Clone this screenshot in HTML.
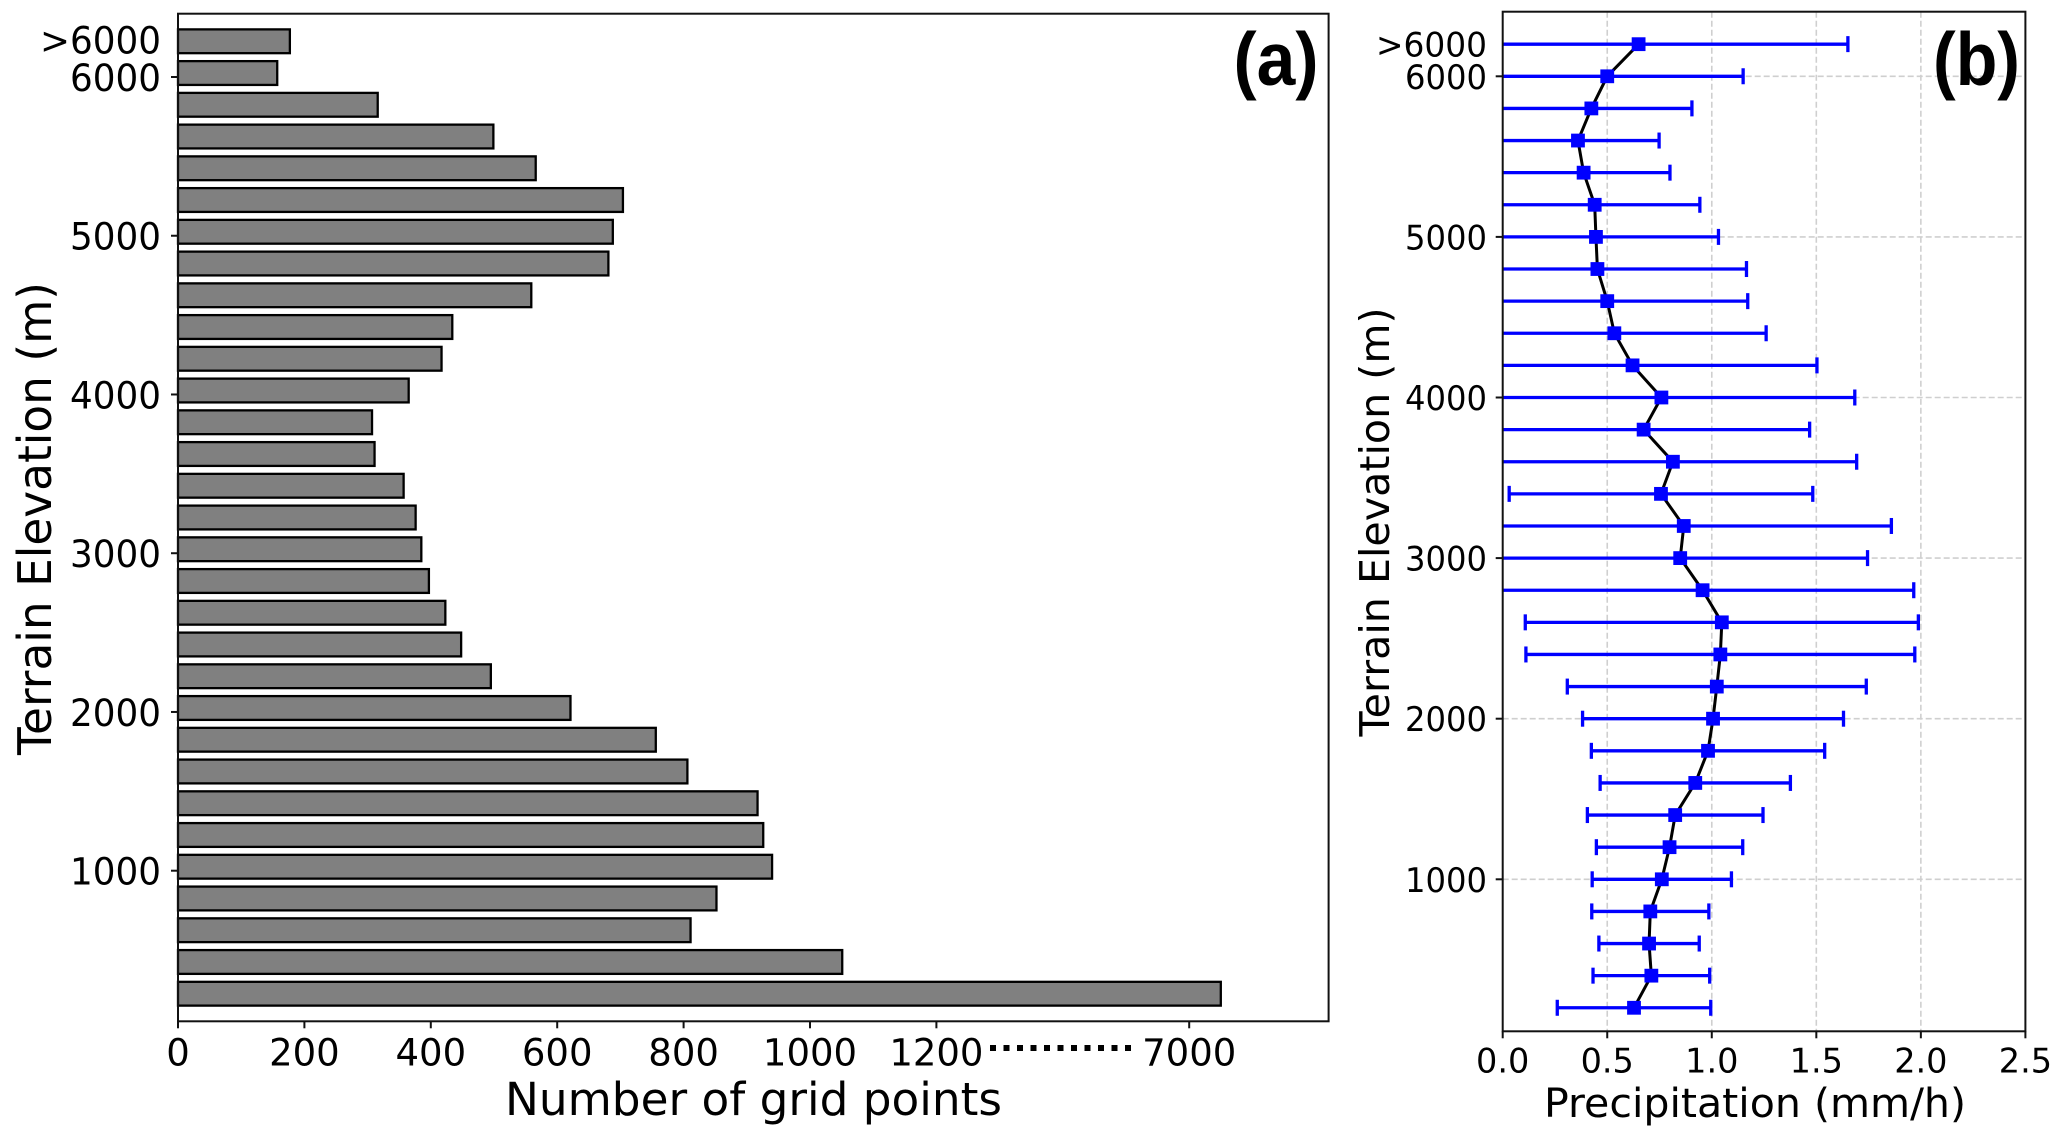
<!DOCTYPE html>
<html lang="en">
<head>
<meta charset="utf-8">
<title>Terrain elevation charts</title>
<style>
html,body{margin:0;padding:0;background:#fff;width:2067px;height:1138px;overflow:hidden}
svg{display:block}
text{font-family:"DejaVu Sans","Liberation Sans",sans-serif;fill:#000}
.panel-letter{font-family:"Liberation Sans",sans-serif;font-weight:bold}
</style>
</head>
<body>
<svg id="figure" xmlns="http://www.w3.org/2000/svg" width="2067" height="1138" viewBox="0 0 2067 1138">
  <defs>
    <clipPath id="clip-b"><rect x="1502.5" y="11.7" width="523" height="1019.6"/></clipPath>
  </defs>
  <rect x="0" y="0" width="2067" height="1138" fill="#fff"/>
  <g id="panel-a"></g>
  <g id="panel-b"></g>
</svg>
<script>
// Panel (a) data: bin centre elevation (m) and number of grid points
const barElevations = [225,425,625,825,1025,1225,1425,1625,1825,2025,2225,2425,2625,2825,3025,3225,3425,3625,3825,4025,4225,4425,4625,4825,5025,5225,5425,5625,5825,6025,6225];
const barCounts = [7050,1051,811,852,940,926,917,806,756,621,495,448,423,397,385,376,357,311,307,365,417,434,559,681,688,704,566,499,316,157,177];
const xTicksA = [0,200,400,600,800,1000,1200,7000];
const yTicks = [1000,2000,3000,4000,5000,6000];
const overLabel = ">6000";

// Panel (b) data: elevation (m), mean precipitation and spread (mm/h)
const profileElevations = [200,400,600,800,1000,1200,1400,1600,1800,2000,2200,2400,2600,2800,3000,3200,3400,3600,3800,4000,4200,4400,4600,4800,5000,5200,5400,5600,5800,6000,6200];
const profileMeans = [0.628,0.711,0.70,0.706,0.761,0.798,0.825,0.921,0.982,1.006,1.024,1.041,1.048,0.956,0.849,0.866,0.757,0.814,0.674,0.759,0.621,0.534,0.50,0.453,0.446,0.44,0.387,0.36,0.424,0.50,0.65];
const profileErrors = [0.367,0.279,0.24,0.28,0.333,0.35,0.42,0.455,0.558,0.624,0.715,0.93,0.94,1.01,0.896,0.993,0.726,0.879,0.794,0.925,0.882,0.726,0.672,0.713,0.586,0.503,0.413,0.388,0.481,0.65,1.001];
const xTicksB = [0,0.5,1.0,1.5,2.0,2.5];
const xTickLabelsB = ["0.0","0.5","1.0","1.5","2.0","2.5"];

const NS = "http://www.w3.org/2000/svg";
function make(parent, tag, attrs, content) {
  const el = document.createElementNS(NS, tag);
  for (const k in attrs) el.setAttribute(k, attrs[k]);
  if (content !== undefined) el.textContent = content;
  parent.appendChild(el);
  return el;
}

// ---------- Panel (a) axes ----------
const A = {left:178, right:1328.6, top:13.7, bottom:1021.3};
// broken x axis: values above the break are shifted so 7000 lands at 1600 linear units
function xA(v) { return A.left + 0.632 * (v >= 1600 ? Math.max(v - 5400, 1600) : v); }
function yA(e) { return 870.7 - (e - 1000) * 0.15874; }

const pa = document.getElementById("panel-a");
barElevations.forEach(function (e, i) {
  const bar = make(pa, "rect", {x:xA(0), y:yA(e) - 11.9, width:xA(barCounts[i]) - xA(0), height:23.8, fill:"#808080", stroke:"#000", "stroke-width":2.3});
  
  
});
const frameA = make(pa, "rect", {x:A.left, y:A.top, width:A.right - A.left, height:A.bottom - A.top, fill:"none", stroke:"#111", "stroke-width":2});



xTicksA.forEach(function (t) {
  const tick = make(pa, "line", {x1:xA(t), x2:xA(t), y1:A.bottom, y2:A.bottom + 7, stroke:"#111", "stroke-width":2});
  
  
  const label = make(pa, "text", {x:xA(t), y:1065.5, "font-size":37, "text-anchor":"middle"}, String(t));
  
  
});
const breakLine = make(pa, "line", {x1:990, x2:1136, y1:1048, y2:1048, stroke:"#000", "stroke-width":6, "stroke-dasharray":"6 7.5"});



yTicks.forEach(function (t) {
  const tick = make(pa, "line", {x1:A.left - 7, x2:A.left, y1:yA(t), y2:yA(t), stroke:"#111", "stroke-width":2});
  
  
  const label = make(pa, "text", {x:161, y:yA(t) + 14, "font-size":37, "text-anchor":"end", textLength:91, lengthAdjust:"spacingAndGlyphs"}, String(t));
  
  
});
const overA = make(pa, "text", {x:161, y:yA(6237) + 14, "font-size":37, "text-anchor":"end", textLength:121, lengthAdjust:"spacingAndGlyphs"}, overLabel);



const xTitleA = make(pa, "text", {x:753.5, y:1115, "font-size":45, "text-anchor":"middle", textLength:497, lengthAdjust:"spacingAndGlyphs"}, "Number of grid points");


const yTitleA = make(pa, "text", {transform:"translate(51 518.5) rotate(-90)", "font-size":46, "text-anchor":"middle", textLength:473, lengthAdjust:"spacingAndGlyphs"}, "Terrain Elevation (m)");


const letterA = make(pa, "text", {class:"panel-letter", x:1233.5, y:85, "font-size":75, textLength:85, lengthAdjust:"spacingAndGlyphs"}, "(a)");



// ---------- Panel (b) axes ----------
const B = {left:1502.7, right:2025.4, top:11.7, bottom:1031.3};
function xB(v) { return B.left + v * (B.right - B.left) / 2.5; }
function yB(e) { return 879.3 - (e - 1000) * 0.16060; }

const pb = document.getElementById("panel-b");
xTicksB.forEach(function (t, i) {
  if (i > 0 && i < xTicksB.length - 1) {
    const grid = make(pb, "line", {x1:xB(t), x2:xB(t), y1:B.top, y2:B.bottom, stroke:"#cfcfcf", "stroke-width":1.6, "stroke-dasharray":"6 3"});
    
    
  }
  const tick = make(pb, "line", {x1:xB(t), x2:xB(t), y1:B.bottom, y2:B.bottom + 7, stroke:"#111", "stroke-width":2});
  
  
  const label = make(pb, "text", {x:xB(t), y:1072.5, "font-size":33.5, "text-anchor":"middle"}, xTickLabelsB[i]);
  
  
});
yTicks.forEach(function (t) {
  const grid = make(pb, "line", {x1:B.left, x2:B.right, y1:yB(t), y2:yB(t), stroke:"#cfcfcf", "stroke-width":1.6, "stroke-dasharray":"6 3"});
  
  
  const tick = make(pb, "line", {x1:B.left - 7, x2:B.left, y1:yB(t), y2:yB(t), stroke:"#111", "stroke-width":2});
  
  
  const label = make(pb, "text", {x:1487, y:yB(t) + 12.5, "font-size":34, "text-anchor":"end", textLength:82, lengthAdjust:"spacingAndGlyphs"}, String(t));
  
  
});
const overB = make(pb, "text", {x:1487, y:yB(6200) + 12.5, "font-size":34, "text-anchor":"end", textLength:111, lengthAdjust:"spacingAndGlyphs"}, overLabel);



const plot = make(pb, "g", {"clip-path":"url(#clip-b)"});



const meanPts = profileElevations.map(function (e, i) { return xB(profileMeans[i]) + "," + yB(e); }).join(" ");
const meanLine = make(plot, "polyline", {points:meanPts, fill:"none", stroke:"#000", "stroke-width":3});



profileElevations.forEach(function (e, i) {
  const y = yB(e);
  const lo = profileMeans[i] - profileErrors[i];
  const hi = profileMeans[i] + profileErrors[i];
  const bar = make(plot, "line", {x1:xB(lo), x2:xB(hi), y1:y, y2:y, stroke:"#0000ff", "stroke-width":3.3});
  
  
  const capLo = make(plot, "line", {x1:xB(lo), x2:xB(lo), y1:y - 8, y2:y + 8, stroke:"#0000ff", "stroke-width":3.3});
  
  
  const capHi = make(plot, "line", {x1:xB(hi), x2:xB(hi), y1:y - 8, y2:y + 8, stroke:"#0000ff", "stroke-width":3.3});
  
  
  const marker = make(plot, "rect", {x:xB(profileMeans[i]) - 6.9, y:y - 6.9, width:13.8, height:13.8, fill:"#0000ff"});
  
  
});

const frameB = make(pb, "rect", {x:B.left, y:B.top, width:B.right - B.left, height:B.bottom - B.top, fill:"none", stroke:"#111", "stroke-width":2});



const xTitleB = make(pb, "text", {x:1755, y:1117, "font-size":40, "text-anchor":"middle", textLength:422, lengthAdjust:"spacingAndGlyphs"}, "Precipitation (mm/h)");


const yTitleB = make(pb, "text", {transform:"translate(1389 522) rotate(-90)", "font-size":41, "text-anchor":"middle", textLength:429, lengthAdjust:"spacingAndGlyphs"}, "Terrain Elevation (m)");


const letterB = make(pb, "text", {class:"panel-letter", x:1933, y:85, "font-size":75, textLength:87, lengthAdjust:"spacingAndGlyphs"}, "(b)");


</script>
</body>
</html>
